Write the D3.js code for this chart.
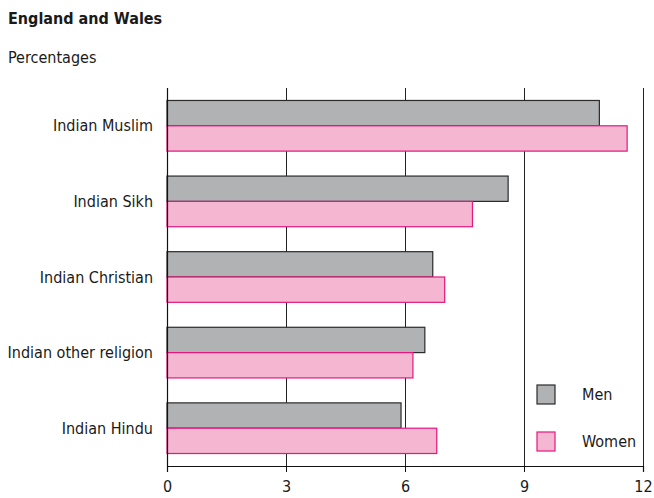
<!DOCTYPE html>
<html>
<head>
<meta charset="utf-8">
<script src="https://cdn.jsdelivr.net/npm/d3@7"></script>
<style>
  body { margin: 0; background: #fff; }
  svg text { font-family: "Liberation Sans Narrow", "DejaVu Sans Condensed", "Noto Sans", sans-serif; fill: #1a1a1a; }
</style>
</head>
<body>
<svg id="chart" width="654" height="498"></svg>
<script>
// Religion groups within the Indian population, top to bottom
const categories = ["Indian Muslim", "Indian Sikh", "Indian Christian", "Indian other religion", "Indian Hindu"];
const series = ["Men", "Women"];
const menValues = [10.9, 8.6, 6.7, 6.5, 5.9];
const womenValues = [11.6, 7.7, 7.0, 6.2, 6.8];
const xTicks = [0, 3, 6, 9, 12];

const colors = { Men: "#b1b2b4", Women: "#f4b6d0" };
const strokes = { Men: "#2b2b2b", Women: "#e5177f" };

const svg = d3.select("#chart");
const plotLeft = 167, plotRight = 643, plotTop = 88, plotBottom = 466;

const x = d3.scaleLinear().domain([0, 12]).range([plotLeft, plotRight]);
const y = d3.scaleBand().domain(categories).range([plotTop, plotBottom])
  .paddingInner(0.33).paddingOuter(0.165);
const ySub = d3.scaleBand().domain(series).range([0, y.bandwidth()]);

// Header
svg.append("text").attr("x", 8).attr("y", 24)
  .style("font-weight", "bold").style("font-size", "16px").text("England and Wales");
svg.append("text").attr("x", 8).attr("y", 63)
  .style("font-size", "16px").text("Percentages");

// Vertical gridlines behind the bars
svg.append("g").selectAll("line").data(xTicks.filter(d => d > 0)).join("line")
  .attr("x1", d => Math.round(x(d)) + 0.5).attr("x2", d => Math.round(x(d)) + 0.5)
  .attr("y1", plotTop).attr("y2", plotBottom)
  .attr("stroke", "#222").attr("stroke-width", 1);

// Bars
const rows = categories.map((c, i) => ({ cat: c, Men: menValues[i], Women: womenValues[i] }));
const g = svg.append("g");
rows.forEach(r => {
  series.forEach(s => {
    g.append("rect")
      .attr("x", x(0))
      .attr("y", y(r.cat) + ySub(s))
      .attr("width", x(r[s]) - x(0))
      .attr("height", ySub.bandwidth())
      .attr("fill", colors[s])
      .attr("stroke", strokes[s])
      .attr("stroke-width", 1.2);
  });
});

// Category labels
svg.append("g").selectAll("text").data(categories).join("text")
  .attr("x", 153)
  .attr("y", d => y(d) + y.bandwidth() / 2)
  .attr("dy", "0.35em")
  .attr("text-anchor", "end")
  .style("font-size", "16px")
  .text(d => d);

// Left axis line
svg.append("line")
  .attr("x1", plotLeft + 0.5).attr("x2", plotLeft + 0.5)
  .attr("y1", plotTop).attr("y2", plotBottom)
  .attr("stroke", "#111").attr("stroke-width", 1.2);

// Bottom axis
const xAxis = d3.axisBottom(x).tickValues(xTicks).tickSize(6).tickPadding(9).tickFormat(d3.format("d"));
const ax = svg.append("g").attr("transform", `translate(0,${plotBottom})`).call(xAxis);
ax.select(".domain").attr("stroke", "#111").attr("stroke-width", 1.2);
ax.selectAll(".tick line").attr("stroke", "#111");
ax.selectAll(".tick text").style("font-size", "16px")
  .style("font-family", "'Liberation Sans Narrow', 'DejaVu Sans Condensed', sans-serif").attr("fill", "#1a1a1a");

// Legend
const legend = svg.append("g");
series.forEach((s, i) => {
  const ly = 385 + i * 47;
  legend.append("rect").attr("x", 537).attr("y", ly).attr("width", 18).attr("height", 19)
    .attr("fill", colors[s]).attr("stroke", strokes[s]).attr("stroke-width", 1.2);
  legend.append("text").attr("x", 582).attr("y", ly + 9.5).attr("dy", "0.35em")
    .style("font-size", "16px").text(s);
});
</script>
</body>
</html>
